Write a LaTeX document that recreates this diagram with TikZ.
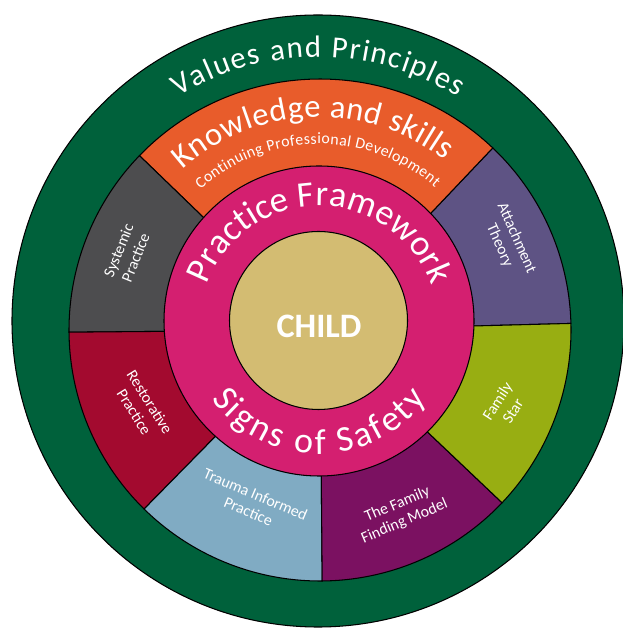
\documentclass[tikz,border=0pt]{standalone}
\usepackage{fontspec}
\setmainfont{Carlito}
\usetikzlibrary{calc,decorations.text}

\definecolor{vpgreen}{HTML}{00613B}
\definecolor{ksorange}{HTML}{E85C2B}
\definecolor{sysgray}{HTML}{4D4D4F}
\definecolor{attpurple}{HTML}{5E5384}
\definecolor{starlime}{HTML}{98AE12}
\definecolor{ffmplum}{HTML}{7B1161}
\definecolor{tiblue}{HTML}{80ABC3}
\definecolor{rpred}{HTML}{A30A2F}
\definecolor{pfpink}{HTML}{D41F70}
\definecolor{childtan}{HTML}{D3BC72}

\newcommand\vpfont{\fontsize{17.5}{18}\selectfont}
\newcommand\ksfont{\fontsize{18.5}{19}\selectfont}
\newcommand\cpdfont{\fontsize{9}{10}\selectfont}
\newcommand\pffont{\fontsize{20.5}{21}\selectfont}

\begin{document}
\begin{tikzpicture}[
    x=0.02cm, y=0.02cm,
    ring/.style={draw=black, line width=0.6pt, fill=#1},
    arclabel/.style={
        decorate,
        decoration={text along path, text align={fit to path},
            text color=white, text={#1}}
    },
    seglabel/.style={
        text=white, align=center, rotate=#1,
        font=\fontsize{9}{10.5}\selectfont
    },
]
\useasboundingbox (0,0) rectangle (622,628);

% centres of the rings
\coordinate (vp) at (318,307);
\coordinate (sc) at (320,298);
\coordinate (pf) at (319,307);
\coordinate (ch) at (318.5,307.5);

% Values and Principles (outer ring)
\draw[ring=vpgreen] (vp) circle[radius=306];

% practice segments
\draw[ring=attpurple] (sc) -- ($(sc)+(1.5:251)$) arc[start angle=1.5, end angle=46.5, radius=251] -- cycle;
\draw[ring=ksorange] (sc) -- ($(sc)+(46.5:251)$) arc[start angle=46.5, end angle=136, radius=251] -- cycle;
\draw[ring=sysgray] (sc) -- ($(sc)+(136:251)$) arc[start angle=136, end angle=180.5, radius=251] -- cycle;
\draw[ring=rpred] (sc) -- ($(sc)+(180.5:251)$) arc[start angle=180.5, end angle=225.5, radius=251] -- cycle;
\draw[ring=tiblue] (sc) -- ($(sc)+(225.5:251)$) arc[start angle=225.5, end angle=270.5, radius=251] -- cycle;
\draw[ring=ffmplum] (sc) -- ($(sc)+(270.5:251)$) arc[start angle=270.5, end angle=316.5, radius=251] -- cycle;
\draw[ring=starlime] (sc) -- ($(sc)+(316.5:251)$) arc[start angle=316.5, end angle=361.5, radius=251] -- cycle;

% Practice Framework ring and child
\draw[ring=pfpink] (pf) circle[radius=155];
\draw[ring=childtan] (ch) circle[radius=89];

% curved titles
\path[arclabel={|\vpfont|Values and Principles}]
    ($(vp)+(122:264)$) arc[start angle=122, end angle=58, radius=264];
\path[arclabel={|\ksfont|Knowledge and skills}]
    ($(pf)+(132:204)$) arc[start angle=132, end angle=52, radius=204];
\path[arclabel={|\cpdfont|Continuing Professional Development}]
    ($(pf)+(132:177)$) arc[start angle=132, end angle=49, radius=177];
\path[arclabel={|\pffont|Practice Framework}]
    ($(319,303)+(160:119)$) arc[start angle=160, end angle=20, radius=119];
\path[arclabel={|\pffont|Signs of Safety}]
    ($(pf)+(216:133)$) arc[start angle=216, end angle=324, radius=133];

% segment labels
\node[seglabel=68] (sys) at (127,374) {Systemic\\Practice};
\node[seglabel=-66] (att) at (508,386) {Attachment\\Theory};
\node[seglabel=57] (star) at (505,222) {Family\\Star};
\node[seglabel=-58] (rest) at (142,221) {Restorative\\Practice};
\node[seglabel=-23] (trauma) at (252,125) {Trauma Informed\\Practice};
\node[seglabel=23] (ffm) at (401,115) {The Family\\Finding Model};

% centre
\node[font=\fontsize{19.5}{20}\selectfont\bfseries, text=white] (child) at (319,302) {CHILD};

\end{tikzpicture}
\end{document}
